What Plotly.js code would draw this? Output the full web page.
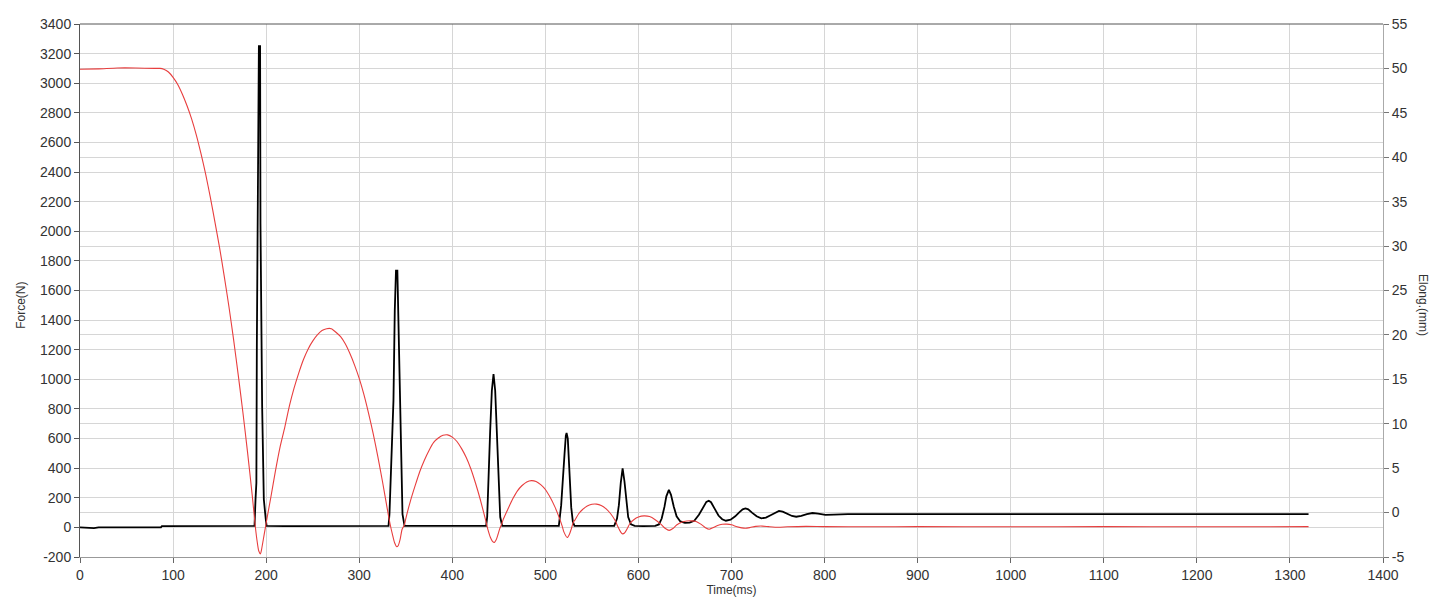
<!DOCTYPE html>
<html>
<head>
<meta charset="utf-8">
<script src="https://cdn.plot.ly/plotly-3.0.1.min.js"></script>
<style>
html,body{margin:0;padding:0;background:#fff;}
#chart{width:1445px;height:608px;}
</style>
</head>
<body>
<div id="chart"></div>
<script>
// Force (N), left axis - black
const forceTime = [
 0, 5, 10, 15, 20, 30, 50, 70, 87, 88,
 100, 120, 140, 160, 180, 187.5, 188.6, 189.5, 190.0, 191.0,
 192.2, 193.5, 193.9, 195.7, 197.5, 199.5, 200.5, 220, 260, 300,
 331.5, 332.5, 334.4, 336.8, 338.2, 339.5, 341.0, 341.9, 343.3, 344.7,
 346.5, 348.7, 380, 420, 436.4, 437.5, 438.9, 440.7, 442.5, 444.3,
 446.1, 447.8, 449.6, 451.5, 453.6, 480, 505, 514.5, 517, 518.8,
 520.6, 522, 522.8, 524.1, 525.9, 527.8, 529.5, 531.3, 550, 570,
 574, 577, 579, 581, 583, 585, 587, 589, 592, 596,
 605, 612, 618, 622, 625, 628, 630, 632.7, 635, 638,
 641, 645, 650, 655, 660, 665, 670, 673, 675.6, 678,
 682, 686, 690, 694, 699, 704, 708, 712, 715, 718,
 722, 727, 732, 737, 742, 747, 751, 755, 760, 765,
 769.5, 775, 781, 787, 793, 801, 810, 825, 850, 900,
 1000, 1100, 1200, 1320];
const forceVals = [
 0, -3, -4, -5, 0, 0, 0, 0, 0, 9,
 9, 10, 10, 10, 10, 10, 191, 300, 1230, 2530,
 3250, 3250, 2050, 820, 190, 60, 10, 9, 10, 10,
 10, 90, 405, 856, 1464, 1734, 1734, 1464, 856, 405,
 90, 10, 10, 10, 10, 70, 405, 653, 923, 1036,
 923, 653, 405, 70, 10, 10, 10, 10, 150, 293,
 496, 620, 638, 600, 361, 135, 40, 10, 10, 10,
 10, 60, 150, 300, 398, 310, 160, 70, 20, 10,
 8, 8, 10, 20, 60, 140, 210, 253, 220, 140,
 75, 40, 30, 32, 45, 85, 145, 172, 180, 170,
 125, 80, 55, 45, 52, 75, 100, 122, 128, 122,
 100, 75, 61, 66, 82, 100, 111, 106, 90, 77,
 72, 78, 90, 97, 93, 84, 86, 90, 89, 90,
 90, 89, 90, 90];

// Elongation (mm), right axis - red
const elongTime = [
 0, 20, 40, 60, 80, 86, 90, 95, 100, 105,
 110, 115, 120, 125, 130, 135, 140, 145, 150, 155,
 160, 165, 170, 175, 180, 185, 188, 190, 192, 193.9,
 195, 197, 199, 201, 205, 210, 215, 220, 225, 230,
 235, 240, 245, 250, 255, 260, 265, 270, 275, 280,
 285, 290, 295, 300, 305, 310, 315, 320, 325, 330,
 333, 336, 338, 340.4, 342, 344, 346, 348.5, 350, 355,
 360, 365, 370, 375, 380, 385, 390, 395, 400, 405,
 410, 415, 420, 425, 430, 435, 438, 441, 443, 445.4,
 447, 449, 451, 453, 455, 460, 465, 470, 475, 480,
 485, 490, 495, 500, 505, 510, 515, 518, 520, 523.5,
 526, 528, 530, 532, 536, 540, 545, 550, 555, 560,
 565, 570, 575, 578, 581, 583, 585, 588, 591, 595,
 600, 606, 612, 618, 624, 629, 633, 637, 641, 647,
 652, 657, 662, 667, 672, 676, 680, 685, 690, 695,
 700, 706, 711, 715, 720, 726, 733, 740, 750, 760,
 780, 800, 850, 900, 1000, 1100, 1200, 1320];
const elongVals = [
 49.9, 49.95, 50.05, 50.05, 50.0, 50.0, 49.9, 49.6, 49.0, 48.2,
 47.1, 45.8, 44.3, 42.5, 40.4, 38.1, 35.5, 32.7, 29.8, 26.6,
 23.2, 19.5, 15.5, 11.3, 6.8, 2.0, -1.2, -3.0, -4.3, -4.65,
 -4.2, -3.0, -1.8, -0.6, 1.7, 4.7, 7.4, 9.6, 12.0, 14.0,
 15.7, 17.2, 18.4, 19.3, 20.0, 20.5, 20.7, 20.7, 20.3, 19.8,
 19.0, 17.9, 16.6, 15.1, 13.3, 11.2, 8.9, 6.3, 3.5, 0.5,
 -1.2, -2.6, -3.4, -3.85, -3.7, -3.0, -1.9, -1.4, -0.7, 1.3,
 3.0, 4.6, 5.9, 7.0, 7.9, 8.4, 8.7, 8.75, 8.5, 8.0,
 7.2, 6.2, 4.9, 3.3, 1.5, -0.5, -1.8, -2.8, -3.2, -3.35,
 -3.1, -2.5, -1.8, -1.3, -0.7, 0.45, 1.55, 2.45, 3.05, 3.45,
 3.6, 3.5, 3.15, 2.6, 1.75, 0.7, -0.6, -1.5, -2.2, -2.8,
 -2.4, -1.8, -1.1, -0.8, -0.1, 0.35, 0.75, 0.93, 0.95, 0.8,
 0.45, -0.1, -0.9, -1.6, -2.2, -2.4, -2.3, -1.8, -1.2, -0.8,
 -0.5, -0.37, -0.45, -0.8, -1.3, -1.8, -2.0, -1.8, -1.4, -1.05,
 -0.95, -0.93, -1.0, -1.3, -1.7, -1.87, -1.7, -1.45, -1.32, -1.3,
 -1.38, -1.6, -1.72, -1.76, -1.68, -1.55, -1.52, -1.58, -1.65, -1.6,
 -1.55, -1.58, -1.6, -1.58, -1.6, -1.58, -1.6, -1.58];

// Tick values / labels
const timeTicks = [0, 100, 200, 300, 400, 500, 600, 700, 800, 900, 1000, 1100, 1200, 1300, 1400];
const timeLabels = ['0', '100', '200', '300', '400', '500', '600', '700', '800', '900', '1000', '1100', '1200', '1300', '1400'];
const forceTicks = [-200, 0, 200, 400, 600, 800, 1000, 1200, 1400, 1600, 1800, 2000, 2200, 2400, 2600, 2800, 3000, 3200, 3400];
const forceLabels = ['-200', '0', '200', '400', '600', '800', '1000', '1200', '1400', '1600', '1800', '2000', '2200', '2400', '2600', '2800', '3000', '3200', '3400'];
const elongTicks = [-5, 0, 5, 10, 15, 20, 25, 30, 35, 40, 45, 50, 55];
const elongLabels = ['-5', '0', '5', '10', '15', '20', '25', '30', '35', '40', '45', '50', '55'];

const FONT = 'Arial, "Liberation Sans", sans-serif';
const GRID = '#d6d6d6';

const traces = [
  {
    x: elongTime, y: elongVals, yaxis: 'y2', type: 'scatter', mode: 'lines',
    name: 'Elong.(mm)', line: {color: 'rgb(232,62,62)', width: 1.1, shape: 'spline', smoothing: 0.6},
    hoverinfo: 'x+y'
  },
  {
    x: forceTime, y: forceVals, yaxis: 'y', type: 'scatter', mode: 'lines',
    name: 'Force(N)', line: {color: '#000000', width: 1.8}, hoverinfo: 'x+y'
  }
];

const layout = {
  width: 1445, height: 608,
  margin: {l: 80, r: 62, t: 24, b: 51, pad: 0},
  paper_bgcolor: '#ffffff', plot_bgcolor: '#ffffff',
  showlegend: false,
  font: {family: FONT, size: 14, color: '#333'},
  xaxis: {
    range: [0, 1400], tickmode: 'array', tickvals: timeTicks, ticktext: timeLabels,
    showgrid: true, gridcolor: GRID, gridwidth: 1, zeroline: false,
    showline: true, linecolor: '#999', linewidth: 1,
    ticks: 'outside', ticklen: 5, tickcolor: '#666', tickwidth: 1,
    tickfont: {family: FONT, size: 14, color: '#333'},
    title: {text: 'Time(ms)', font: {family: FONT, size: 12, color: '#333'}, standoff: 3}
  },
  yaxis: {
    range: [-200, 3400], tickmode: 'array', tickvals: forceTicks, ticktext: forceLabels,
    showgrid: true, gridcolor: GRID, gridwidth: 1, zeroline: false,
    showline: true, linecolor: '#555', linewidth: 1,
    ticks: 'outside', ticklen: 5, tickcolor: '#555', tickwidth: 1,
    tickfont: {family: FONT, size: 14, color: '#333'}
  },
  yaxis2: {
    range: [-5, 55], overlaying: 'y', side: 'right',
    tickmode: 'array', tickvals: elongTicks, ticktext: elongLabels,
    showgrid: true, gridcolor: GRID, gridwidth: 1, zeroline: false,
    showline: true, linecolor: '#aaa', linewidth: 1,
    ticks: 'outside', ticklen: 5, tickcolor: '#777', tickwidth: 1,
    tickfont: {family: FONT, size: 14, color: '#333'}
  },
  shapes: [
    {type: 'line', xref: 'paper', yref: 'paper', x0: 0, x1: 1, y0: 1, y1: 1,
     line: {color: '#555', width: 1}}
  ],
  annotations: [
    {text: 'Force(N)', xref: 'paper', yref: 'paper', x: -0.0453, y: 0.473,
     xanchor: 'center', yanchor: 'middle', textangle: -90, showarrow: false,
     font: {family: FONT, size: 12, color: '#333'}},
    {text: 'Elong.(mm)', xref: 'paper', yref: 'paper', x: 1.0306, y: 0.473,
     xanchor: 'center', yanchor: 'middle', textangle: 90, showarrow: false,
     font: {family: FONT, size: 12, color: '#333'}}
  ]
};

Plotly.newPlot('chart', traces, layout, {displayModeBar: false, staticPlot: true});
</script>
</body>
</html>
